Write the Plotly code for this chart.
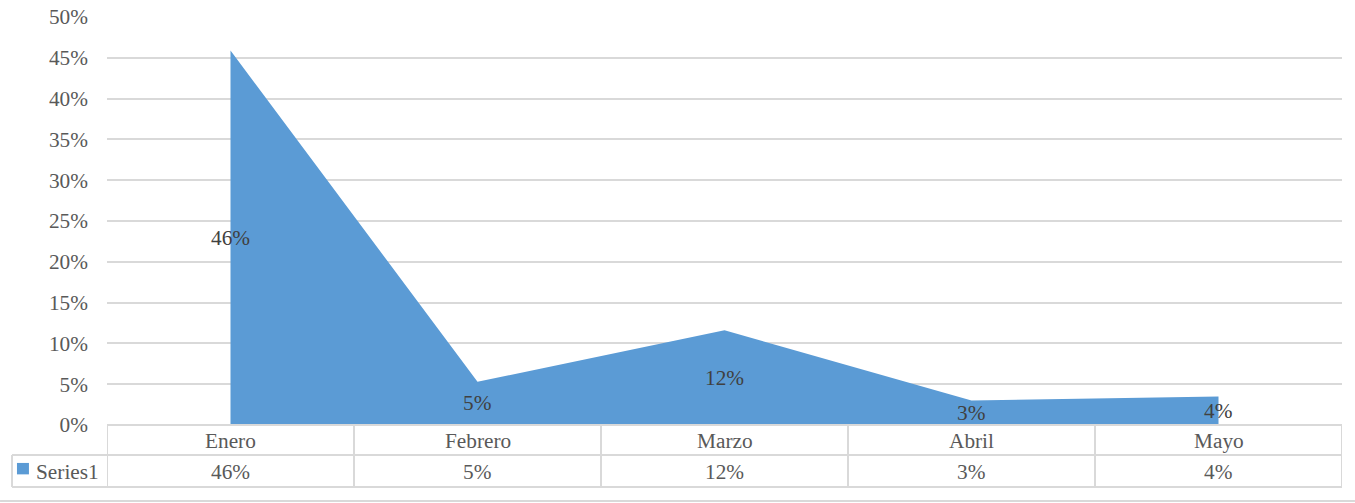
import plotly.graph_objects as go

categories = ["Enero", "Febrero", "Marzo", "Abril", "Mayo"]
values = [0.459, 0.053, 0.116, 0.030, 0.035]
series_name = "Series1"
labels = [f"{v*100:.0f}%" for v in values]

FILL = "#5B9BD5"
GRID = "#D9D9D9"
TXT = "#595959"
LBL = "#404040"
FONT = "Liberation Serif, Times New Roman, serif"
FS = 21.3

fig = go.Figure()
fig.add_trace(go.Scatter(
    x=list(range(len(categories))), y=values, mode="lines", fill="tozeroy",
    fillcolor=FILL, line=dict(width=0, color=FILL), hoverinfo="skip",
    showlegend=False,
))

annotations = []
shapes = []
n = len(categories)
# data labels at half height of the area
for i, (v, t) in enumerate(zip(values, labels)):
    annotations.append(dict(x=i, y=v / 2, xref="x", yref="y", text=t, showarrow=False,
                            xanchor="center", yanchor="middle",
                            font=dict(family=FONT, size=FS, color=LBL)))

# data table
row1_y = -0.039
row2_y = -0.115
for i, c in enumerate(categories):
    annotations.append(dict(x=i, y=row1_y, xref="x", yref="paper", text=c, showarrow=False,
                            xanchor="center", yanchor="middle",
                            font=dict(family=FONT, size=FS, color=TXT)))
    annotations.append(dict(x=i, y=row2_y, xref="x", yref="paper", text=labels[i], showarrow=False,
                            xanchor="center", yanchor="middle",
                            font=dict(family=FONT, size=FS, color=TXT)))

line = dict(color=GRID, width=2)
row_top = 0.0
row_mid = -0.0735
row_bot = -0.152
left_x = -0.0769
shapes.append(dict(type="line", xref="x", yref="paper", x0=-0.5, x1=n - 0.5, y0=row_top, y1=row_top, line=line))
shapes.append(dict(type="line", xref="paper", yref="paper", x0=left_x, x1=1, y0=row_mid, y1=row_mid, line=line))
shapes.append(dict(type="line", xref="paper", yref="paper", x0=left_x, x1=1, y0=row_bot, y1=row_bot, line=line))
for k in range(n + 1):
    shapes.append(dict(type="line", xref="x", yref="paper", x0=k - 0.5, x1=k - 0.5,
                       y0=row_top, y1=row_bot, line=line))
shapes.append(dict(type="line", xref="paper", yref="paper", x0=left_x, x1=left_x,
                   y0=row_mid, y1=row_bot, line=line))
# legend key square
shapes.append(dict(type="rect", xref="paper", yref="paper", x0=-0.0729, x1=-0.0632,
                   y0=-0.121, y1=-0.093, fillcolor=FILL, line=dict(width=0)))
annotations.append(dict(x=-0.0595, y=row2_y, xref="paper", yref="paper", text=series_name,
                        showarrow=False, xanchor="left", yanchor="middle",
                        font=dict(family=FONT, size=FS, color=TXT)))
# outer chart border bottom
shapes.append(dict(type="line", xref="paper", yref="paper", x0=-0.0866, x1=1.0105, y0=-0.186, y1=-0.186,
                   line=dict(color=GRID, width=2)))

fig.update_layout(
    width=1355, height=503,
    margin=dict(l=107, r=13, t=17, b=78),
    paper_bgcolor="white", plot_bgcolor="white",
    showlegend=False,
    xaxis=dict(range=[-0.5, n - 0.5], showticklabels=False, showgrid=False, zeroline=False,
               showline=False, ticks="", automargin=False),
    yaxis=dict(range=[0, 0.5], dtick=0.05, tickformat=".0%", showgrid=True, gridcolor=GRID,
               gridwidth=2, zeroline=False, showline=False, ticks="", automargin=False,
               tickfont=dict(family=FONT, size=FS, color=TXT), ticklabelstandoff=18),
    annotations=annotations, shapes=shapes,
)

fig.write_html("out.html", config={"displayModeBar": False},
               post_script="document.body.style.margin='0';document.body.style.overflow='hidden';")
